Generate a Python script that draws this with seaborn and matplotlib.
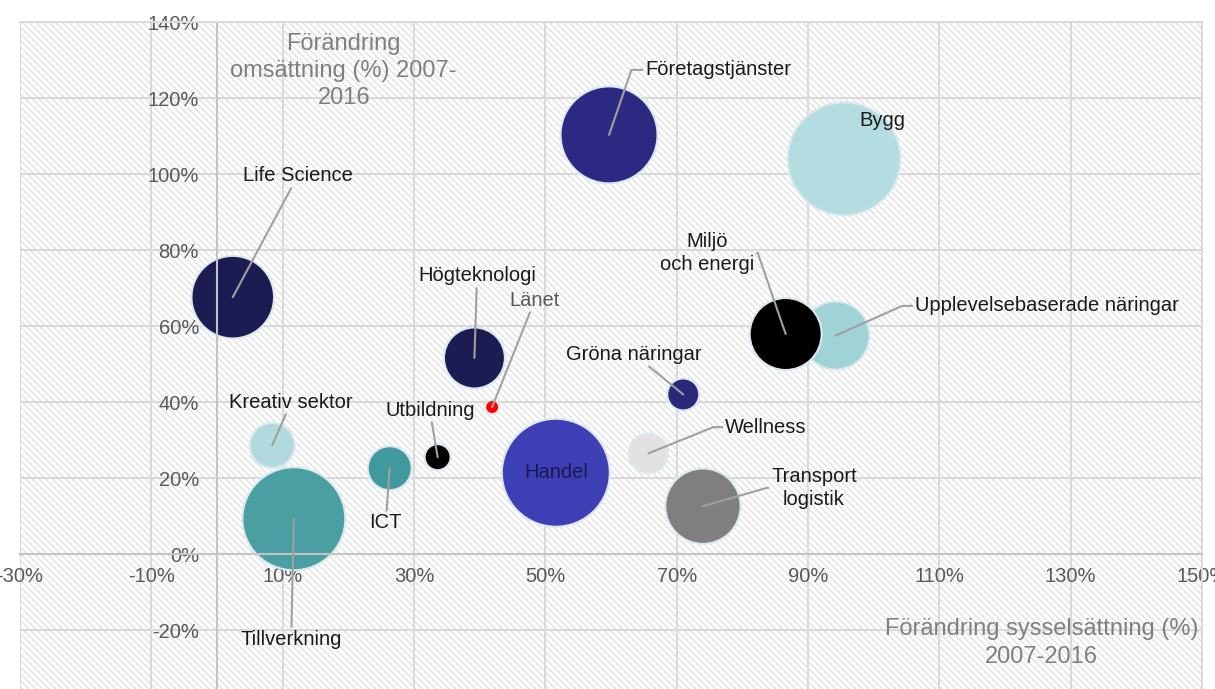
import pandas as pd
import seaborn as sns
import matplotlib.pyplot as plt
from matplotlib.patches import Rectangle
from matplotlib.ticker import PercentFormatter

plt.rcParams['font.family'] = ['Liberation Sans', 'DejaVu Sans']
plt.rcParams['axes.unicode_minus'] = False
plt.rcParams['hatch.linewidth'] = 1.0

# data: förändring 2007-2016 i procent
bransch = ['Life Science', 'Företagstjänster', 'Bygg', 'Högteknologi', 'Länet',
           'Upplevelsebaserade näringar', 'Miljö och energi', 'Gröna näringar',
           'Kreativ sektor', 'ICT', 'Utbildning', 'Handel', 'Wellness',
           'Transport logistik', 'Tillverkning']
sysselsattning = [2.4, 59.7, 95.5, 39.2, 41.9, 94.2, 86.6, 71.0, 8.4, 26.3, 33.6, 51.6, 65.7, 74.0, 11.7]
omsattning = [67.6, 110.3, 104.0, 51.6, 38.7, 57.5, 57.9, 42.0, 28.6, 22.6, 25.5, 21.4, 26.5, 12.6, 9.3]
storlek = [1706, 2352, 3192, 930, 49, 1156, 1296, 256, 506, 484, 169, 2916, 388, 1421, 2652]
farger = ['#1c1b52', '#2b2982', '#b4dde1', '#1c1b52', '#ff0000', '#9fd3d6', '#000000', '#29287a',
          '#b0dadd', '#409a9d', '#000000', '#3f3fb5', '#e2e2e2', '#7f7f7f', '#4a9fa3']
xticks = list(range(-30, 151, 20))
yticks = list(range(-20, 141, 20))

df = pd.DataFrame({'bransch': bransch, 'syssel': sysselsattning,
                   'omsatt': omsattning, 'storlek': storlek})

fig = plt.figure(figsize=(12.15, 6.89), dpi=100)
ax = fig.add_axes([20 / 1215, 0, 1182 / 1215, 667 / 689])
ax.set_xlim(-30, 150)
ax.set_ylim(-35.5, 140)

# randig bakgrund
ax.add_patch(Rectangle((0, 0), 1, 1, transform=ax.transAxes, facecolor='white',
                       edgecolor='#e2e2e2', hatch='\\\\\\\\\\', linewidth=0, zorder=0.1))

sns.scatterplot(data=df, x='syssel', y='omsatt', hue='bransch',
                palette=dict(zip(bransch, farger)), size='storlek',
                sizes=(0, 2.0736 * 3200), size_norm=(0, 3200),
                edgecolor='#dbe9ee', linewidth=1.5, alpha=1, legend=False, ax=ax, zorder=2)

ax.set_xlabel('')
ax.set_ylabel('')
ax.set_xticks(xticks)
ax.set_yticks(yticks)
ax.xaxis.set_major_formatter(PercentFormatter(100, decimals=0))
ax.yaxis.set_major_formatter(PercentFormatter(100, decimals=0))
ax.tick_params(length=0, labelsize=14.5, labelcolor='#595959')
ax.tick_params(axis='x', pad=9)
ax.tick_params(axis='y', pad=13)
ax.grid(True, color='#dadada', lw=1.5)
ax.set_axisbelow(True)

ax.spines['left'].set_position(('data', 0))
ax.spines['bottom'].set_position(('data', 0))
for s in ['left', 'bottom']:
    ax.spines[s].set_color('#c4c4c4')
    ax.spines[s].set_linewidth(1.5)
for s in ['top', 'right']:
    ax.spines[s].set_color('#dadada')
    ax.spines[s].set_linewidth(1.5)

# etiketter
layout = {
    'Life Science': dict(text='Life Science', pos=(12.3, 99.5)),
    'Företagstjänster': dict(text='Företagstjänster', pos=(65.2, 127.4), ha='left',
                             conn='angle,angleA=0,angleB=71,rad=0', rel=(0, 0.5)),
    'Bygg': dict(text='Bygg', pos=(101.3, 114.0), arrow=False),
    'Högteknologi': dict(text='Högteknologi', pos=(39.6, 73.2)),
    'Länet': dict(text='Länet', pos=(48.4, 66.8), color='#595959'),
    'Miljö och energi': dict(text='Miljö\noch energi', pos=(74.6, 79.2),
                             conn='angle,angleA=0,angleB=109,rad=0', rel=(1, 0.5)),
    'Upplevelsebaserade näringar': dict(text='Upplevelsebaserade näringar', pos=(106.3, 65.3),
                                        ha='left', conn='angle,angleA=0,angleB=24,rad=0',
                                        rel=(0, 0.5)),
    'Gröna näringar': dict(text='Gröna näringar', pos=(63.5, 52.6)),
    'Kreativ sektor': dict(text='Kreativ sektor', pos=(11.3, 40.0)),
    'ICT': dict(text='ICT', pos=(25.7, 8.2)),
    'Utbildning': dict(text='Utbildning', pos=(32.4, 37.9)),
    'Handel': dict(text='Handel', pos=None, arrow=False, color='#1a1a50'),
    'Wellness': dict(text='Wellness', pos=(77.4, 33.4), ha='left',
                     conn='angle,angleA=0,angleB=22,rad=0', rel=(0, 0.5)),
    'Transport logistik': dict(text='Transport\nlogistik', pos=(90.9, 17.4),
                               conn='angle,angleA=0,angleB=16,rad=0', rel=(0, 0.5)),
    'Tillverkning': dict(text='Tillverkning', pos=(11.3, -22.4)),
}

for namn, x, y in zip(bransch, sysselsattning, omsattning):
    l = layout[namn]
    pos = l['pos'] if l['pos'] is not None else (x, y)
    kw = dict(fontsize=14.5, color=l.get('color', '#1a1a1a'), ha=l.get('ha', 'center'),
              va='center', linespacing=1.22, zorder=5)
    if l.get('arrow', True):
        ax.annotate(l['text'], xy=(x, y), xytext=pos,
                    arrowprops=dict(arrowstyle='-', color='#a0a0a0', lw=1.5, shrinkA=0, shrinkB=0,
                                    connectionstyle=l.get('conn', 'arc3'),
                                    relpos=l.get('rel', (0.5, 0.5))), **kw)
    else:
        ax.text(pos[0], pos[1], l['text'], **kw)

ax.text(19.3, 127.1, 'Förändring\nomsättning (%) 2007-\n2016', fontsize=17, color='#7f7f7f',
        ha='center', va='center', linespacing=1.3, zorder=5)
ax.text(125.6, -23.4, 'Förändring sysselsättning (%)\n2007-2016', fontsize=17, color='#7f7f7f',
        ha='center', va='center', linespacing=1.3, zorder=5)

fig.savefig('out.png', dpi=100)
